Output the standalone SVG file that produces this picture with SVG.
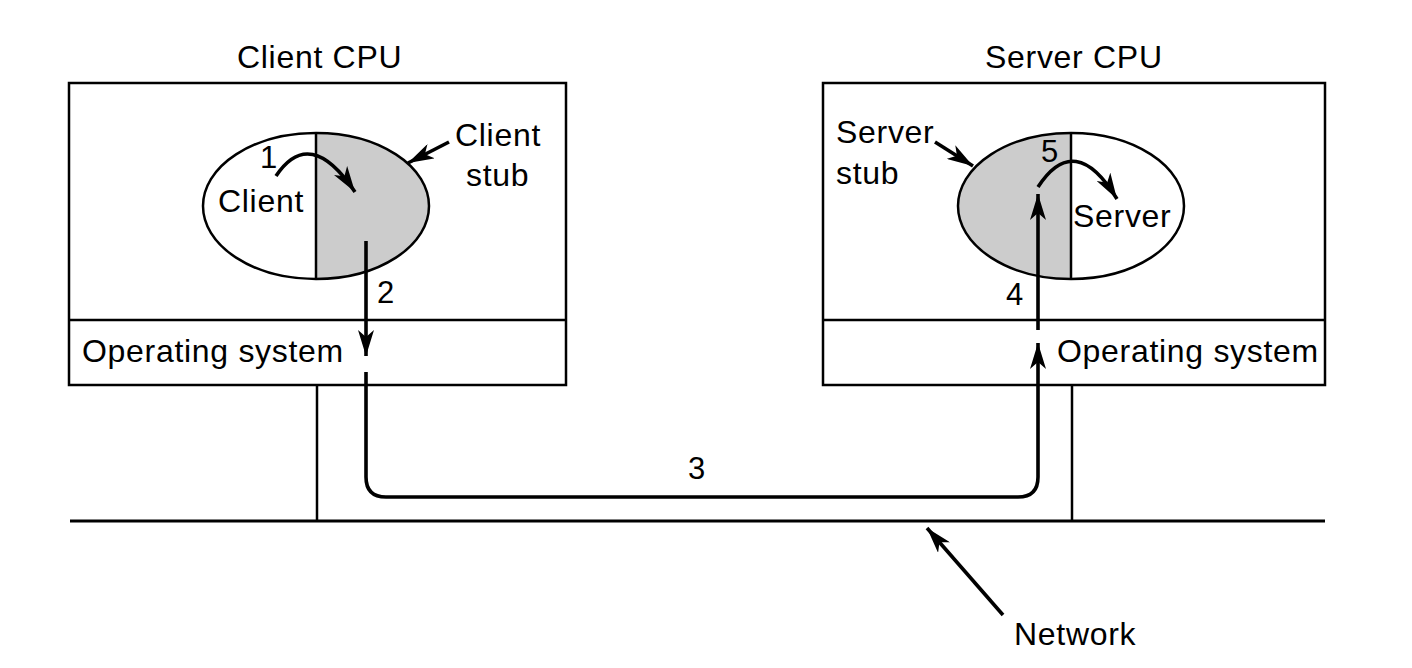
<svg xmlns="http://www.w3.org/2000/svg" width="1412" height="668" viewBox="0 0 1412 668">
<style>
text{font-family:"Liberation Sans",Arial,sans-serif;font-size:32px;letter-spacing:0.7px;fill:#000}
.num{font-size:31px;letter-spacing:0}
.box{fill:#fff;stroke:#000;stroke-width:2.5}
.ln{fill:none;stroke:#000;stroke-width:2.5}
.ar{fill:none;stroke:#000;stroke-width:3.6}
</style>
<defs>
<marker id="ah" viewBox="0 0 26 16" refX="26" refY="8" markerWidth="26" markerHeight="16" markerUnits="userSpaceOnUse" orient="auto">
<path d="M0,0 L26,8 L0,16 L7,8 Z" fill="#000"/>
</marker>
</defs>
<rect width="1412" height="668" fill="#fff"/>
<g id="client-cpu">
<text x="237" y="68">Client CPU</text>
<rect class="box" x="69" y="83" width="497" height="302"/>
<line class="ln" x1="69" y1="320" x2="566" y2="320"/>
<text x="82" y="362">Operating system</text>
</g>
<g id="client-process">
<path d="M316,133 A113,73 0 0 1 316,279 Z" fill="#cccccc"/>
<ellipse class="ln" cx="316" cy="206" rx="113" ry="73"/>
<line class="ln" x1="316" y1="133" x2="316" y2="279"/>
<text x="218" y="212">Client</text>
<text class="num" x="260" y="168">1</text>
</g>
<g id="client-stub-label">
<text x="455" y="146">Client</text>
<text x="466" y="186">stub</text>
</g>
<g id="server-cpu">
<text x="985" y="68">Server CPU</text>
<rect class="box" x="823" y="83" width="502" height="302"/>
<line class="ln" x1="823" y1="320" x2="1325" y2="320"/>
<text x="1057" y="362">Operating system</text>
</g>
<g id="server-process">
<path d="M1071,133 A113,73 0 0 0 1071,279 Z" fill="#cccccc"/>
<ellipse class="ln" cx="1071" cy="206" rx="113" ry="73"/>
<line class="ln" x1="1071" y1="133" x2="1071" y2="279"/>
<text x="1073" y="227">Server</text>
<text class="num" x="1041" y="162">5</text>
</g>
<g id="server-stub-label">
<text x="836" y="143">Server</text>
<text x="836" y="184">stub</text>
</g>
<g id="network">
<line x1="70" y1="521" x2="1325" y2="521" stroke="#000" stroke-width="3"/>
<text x="1014" y="645">Network</text>
</g>
<g id="connectors">
<line class="ln" x1="317" y1="385" x2="317" y2="521"/>
<line class="ln" x1="1072" y1="385" x2="1072" y2="521"/>
<path class="ar" d="M276,176 Q310,125 355,192" marker-end="url(#ah)"/>
<path class="ar" d="M1038,187 Q1075,130 1117,199" marker-end="url(#ah)"/>
<line class="ar" x1="366" y1="241" x2="366" y2="356" marker-end="url(#ah)"/>
<path class="ar" d="M366,372 L366,477 Q366,497 386,497 L1018,497 Q1038,497 1038,477 L1038,343" marker-end="url(#ah)"/>
<line class="ar" x1="1038" y1="330" x2="1038" y2="194" marker-end="url(#ah)"/>
<line class="ar" x1="449" y1="142" x2="408" y2="163" marker-end="url(#ah)"/>
<line class="ar" x1="935" y1="142" x2="973" y2="166" marker-end="url(#ah)"/>
<line class="ar" x1="1003" y1="615" x2="927" y2="528" marker-end="url(#ah)"/>
<text class="num" x="377" y="303">2</text>
<text class="num" x="1006" y="305">4</text>
<text class="num" x="688" y="479">3</text>
</g>
</svg>
